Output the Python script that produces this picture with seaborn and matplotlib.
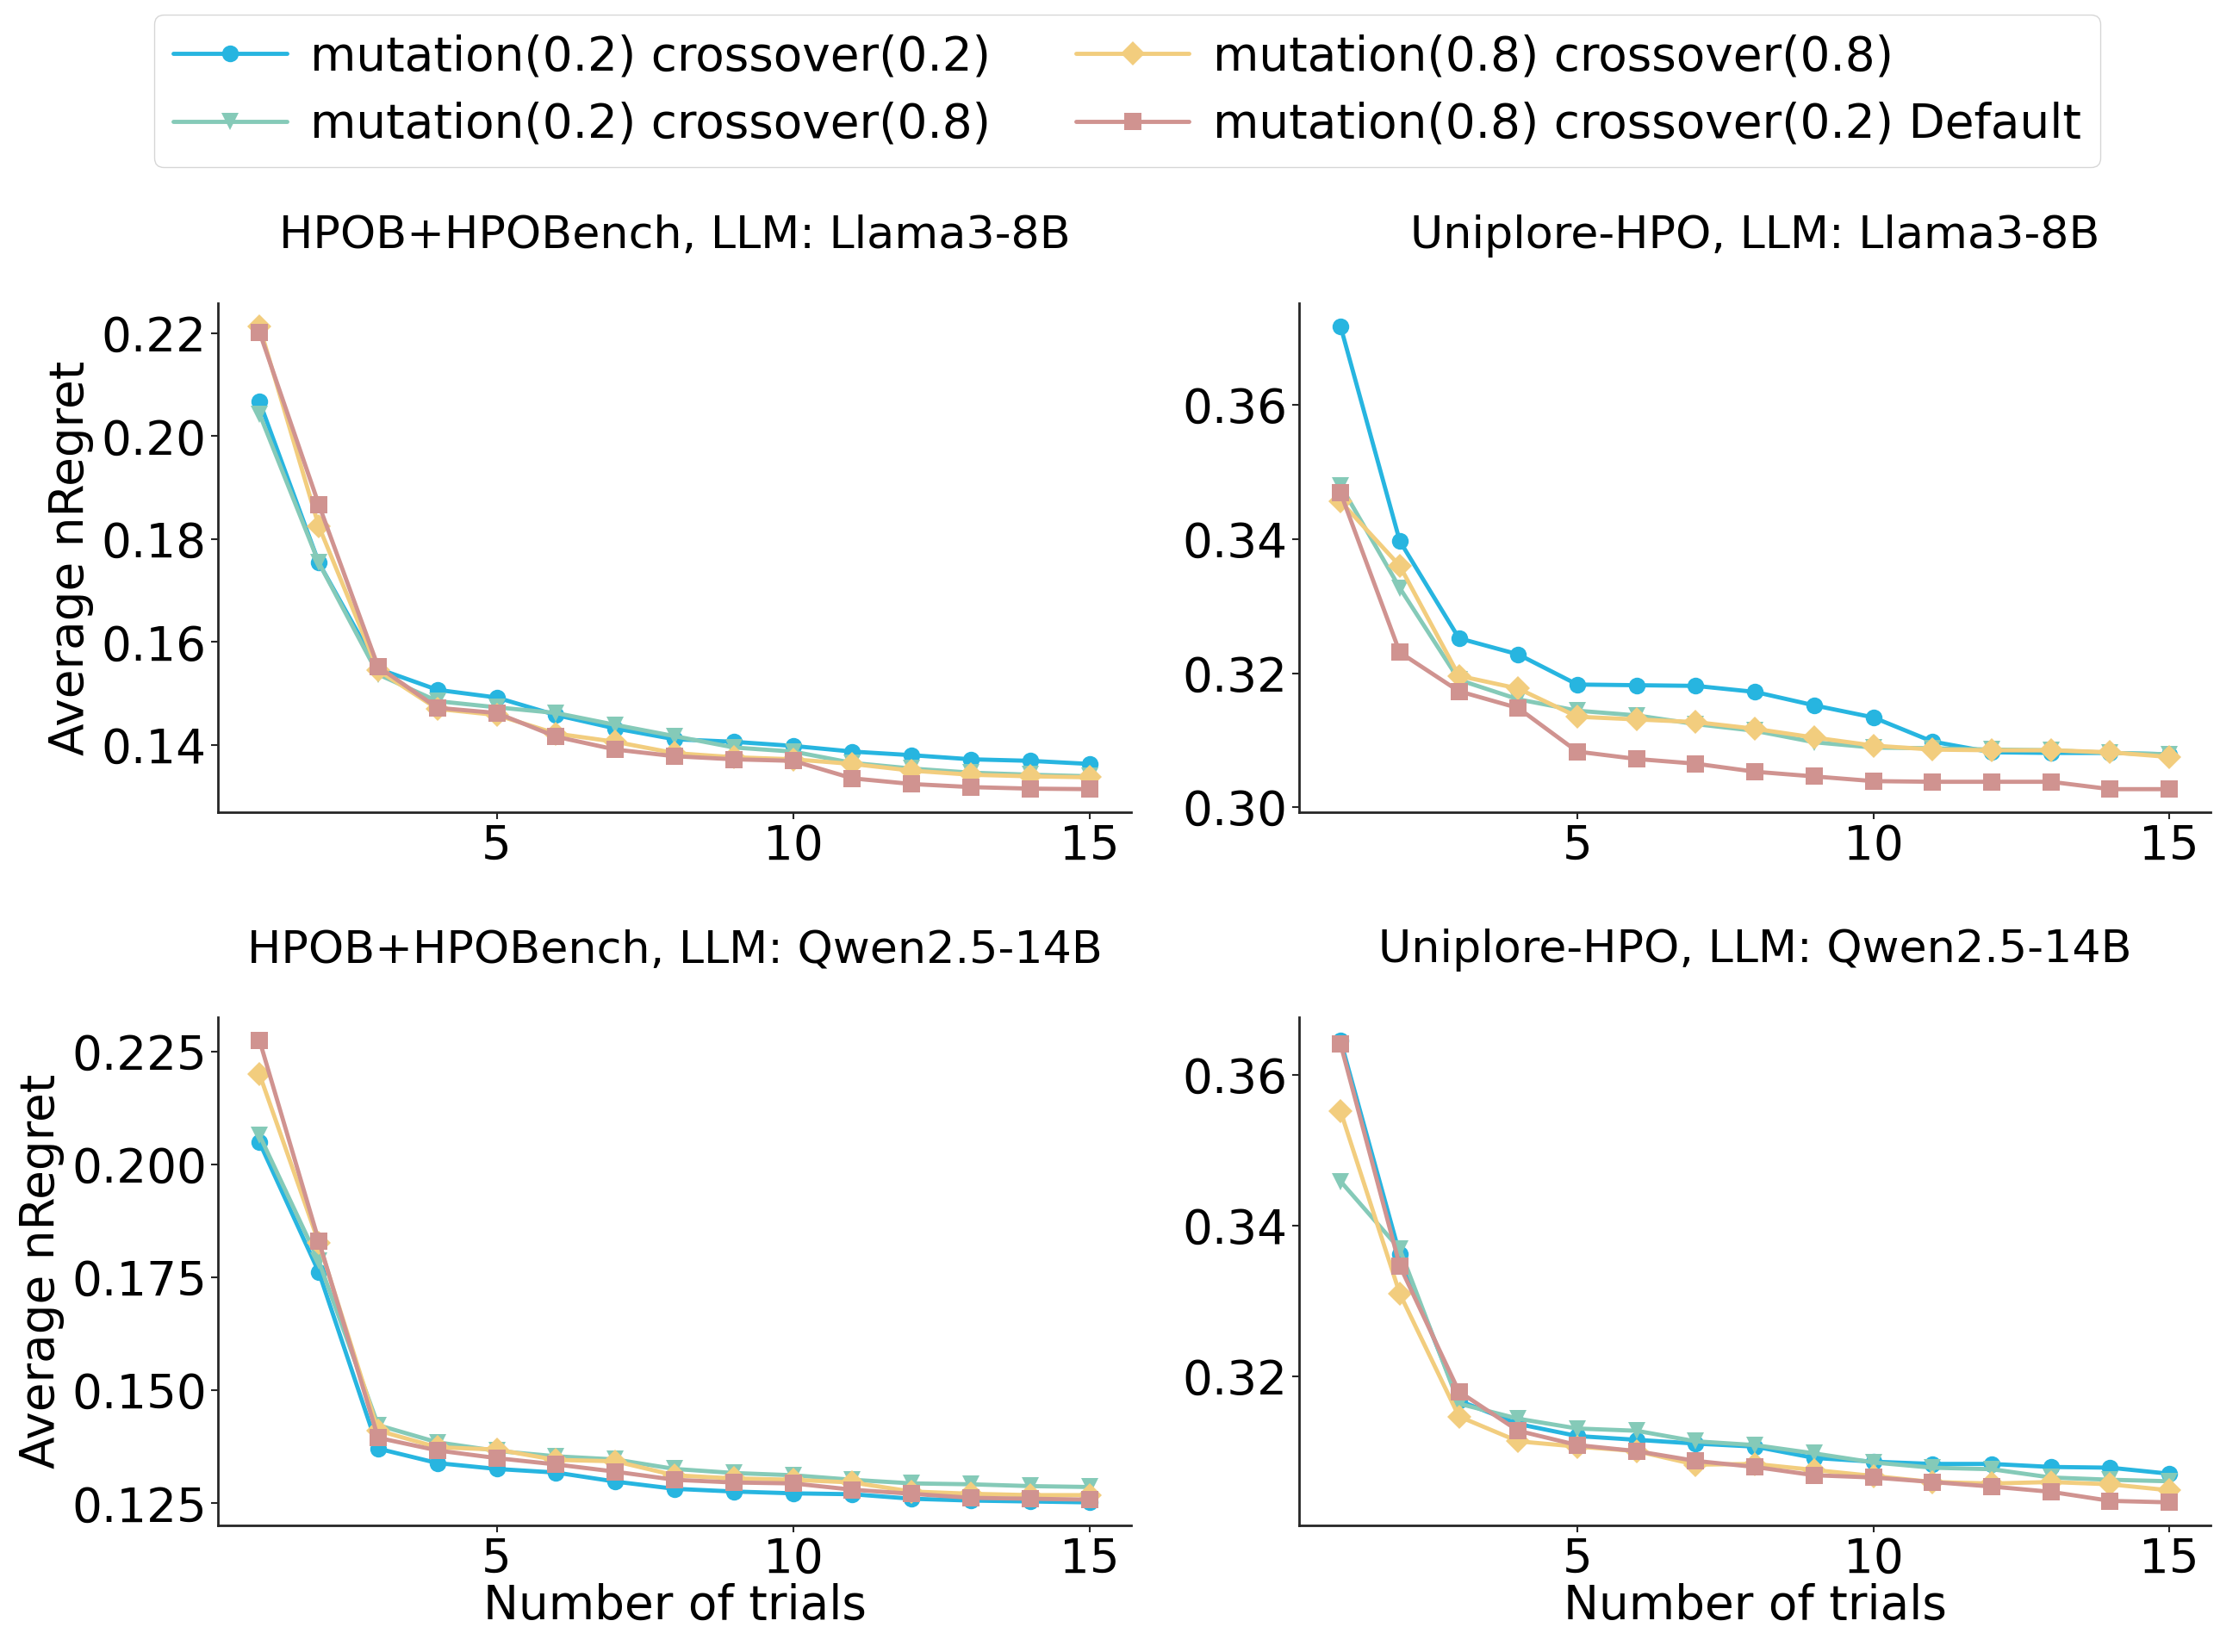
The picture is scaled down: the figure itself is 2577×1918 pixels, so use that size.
import numpy as np
import pandas as pd
import matplotlib
matplotlib.use("Agg")
import matplotlib.pyplot as plt
import seaborn as sns

# Dados (Average nRegret por número de trials)
trials = list(range(1, 16))
configs = [
    "mutation(0.2) crossover(0.2)",
    "mutation(0.2) crossover(0.8)",
    "mutation(0.8) crossover(0.8)",
    "mutation(0.8) crossover(0.2) Default",
]
cores = ["#27B5E0", "#85CAB8", "#F2CD7E", "#D09390"]
marcadores = ["o", "v", "D", "s"]

titulos = [
    "HPOB+HPOBench, LLM: Llama3-8B",
    "Uniplore-HPO, LLM: Llama3-8B",
    "HPOB+HPOBench, LLM: Qwen2.5-14B",
    "Uniplore-HPO, LLM: Qwen2.5-14B",
]

# painel 1: HPOB+HPOBench / Llama3-8B
hpob_llama_m2c2 = [0.2067, 0.1754, 0.1548, 0.1507, 0.1492, 0.1458, 0.1432, 0.1411,
                   0.1406, 0.1398, 0.1387, 0.1380, 0.1372, 0.1369, 0.1363]
hpob_llama_m2c8 = [0.2043, 0.1754, 0.1537, 0.1485, 0.1473, 0.1462, 0.1439, 0.1417,
                   0.1395, 0.1387, 0.1365, 0.1354, 0.1346, 0.1342, 0.1339]
hpob_llama_m8c8 = [0.2213, 0.1825, 0.1545, 0.1470, 0.1458, 0.1422, 0.1406, 0.1384,
                   0.1376, 0.1372, 0.1363, 0.1350, 0.1342, 0.1339, 0.1337]
hpob_llama_m8c2 = [0.2202, 0.1867, 0.1552, 0.1472, 0.1462, 0.1416, 0.1391, 0.1378,
                   0.1372, 0.1369, 0.1335, 0.1324, 0.1318, 0.1315, 0.1314]

# painel 2: Uniplore-HPO / Llama3-8B
uni_llama_m2c2 = [0.3717, 0.3397, 0.3252, 0.3228, 0.3183, 0.3182, 0.3181, 0.3172,
                  0.3152, 0.3134, 0.3098, 0.3082, 0.3081, 0.3081, 0.3079]
uni_llama_m2c8 = [0.3480, 0.3327, 0.3190, 0.3161, 0.3144, 0.3137, 0.3124, 0.3114,
                  0.3097, 0.3089, 0.3088, 0.3086, 0.3085, 0.3081, 0.3079]
uni_llama_m8c8 = [0.3456, 0.3360, 0.3196, 0.3177, 0.3135, 0.3131, 0.3127, 0.3117,
                  0.3104, 0.3092, 0.3086, 0.3085, 0.3085, 0.3082, 0.3075]
uni_llama_m8c2 = [0.3469, 0.3231, 0.3173, 0.3148, 0.3083, 0.3072, 0.3065, 0.3053,
                  0.3046, 0.3039, 0.3038, 0.3038, 0.3038, 0.3027, 0.3027]

# painel 3: HPOB+HPOBench / Qwen2.5-14B
hpob_qwen_m2c2 = [0.2049, 0.1762, 0.1371, 0.1339, 0.1326, 0.1318, 0.1298, 0.1282,
                  0.1276, 0.1272, 0.1270, 0.1260, 0.1256, 0.1254, 0.1252]
hpob_qwen_m2c8 = [0.2065, 0.1786, 0.1423, 0.1385, 0.1366, 0.1354, 0.1347, 0.1326,
                  0.1317, 0.1312, 0.1302, 0.1294, 0.1292, 0.1288, 0.1286]
hpob_qwen_m8c8 = [0.2200, 0.1827, 0.1411, 0.1374, 0.1369, 0.1346, 0.1343, 0.1312,
                  0.1305, 0.1302, 0.1296, 0.1276, 0.1271, 0.1268, 0.1268]
hpob_qwen_m8c2 = [0.2275, 0.1831, 0.1395, 0.1367, 0.1350, 0.1336, 0.1320, 0.1302,
                  0.1296, 0.1294, 0.1280, 0.1271, 0.1262, 0.1260, 0.1258]

# painel 4: Uniplore-HPO / Qwen2.5-14B
uni_qwen_m2c2 = [0.3646, 0.3362, 0.3168, 0.3137, 0.3121, 0.3116, 0.3111, 0.3107,
                 0.3092, 0.3087, 0.3084, 0.3084, 0.3080, 0.3079, 0.3071]
uni_qwen_m2c8 = [0.3459, 0.3369, 0.3164, 0.3144, 0.3131, 0.3128, 0.3114, 0.3109,
                 0.3098, 0.3086, 0.3079, 0.3077, 0.3066, 0.3063, 0.3061]
uni_qwen_m8c8 = [0.3552, 0.3310, 0.3147, 0.3114, 0.3107, 0.3101, 0.3083, 0.3084,
                 0.3076, 0.3068, 0.3060, 0.3058, 0.3060, 0.3057, 0.3049]
uni_qwen_m8c2 = [0.3641, 0.3347, 0.3180, 0.3128, 0.3109, 0.3101, 0.3088, 0.3080,
                 0.3069, 0.3066, 0.3060, 0.3054, 0.3047, 0.3035, 0.3033]

paineis = [
    [hpob_llama_m2c2, hpob_llama_m2c8, hpob_llama_m8c8, hpob_llama_m8c2],
    [uni_llama_m2c2, uni_llama_m2c8, uni_llama_m8c8, uni_llama_m8c2],
    [hpob_qwen_m2c2, hpob_qwen_m2c8, hpob_qwen_m8c8, hpob_qwen_m8c2],
    [uni_qwen_m2c2, uni_qwen_m2c8, uni_qwen_m8c8, uni_qwen_m8c2],
]
passos_y = [0.02, 0.02, 0.025, 0.02]

sns.set_style("ticks")
plt.rcParams["font.family"] = ["DejaVu Sans"]
plt.rcParams["text.color"] = "black"
plt.rcParams["axes.labelcolor"] = "black"
plt.rcParams["xtick.labelcolor"] = "black"
plt.rcParams["ytick.labelcolor"] = "black"
FS = 39.5
FS_TITULO = 37.7

fig = plt.figure(figsize=(25.77, 19.18), dpi=100)
posicoes = [
    [0.0982, 0.5083, 0.4113, 0.3081],
    [0.5852, 0.5083, 0.4106, 0.3081],
    [0.0982, 0.0766, 0.4113, 0.3076],
    [0.5852, 0.0766, 0.4106, 0.3076],
]

for k, (pos, series) in enumerate(zip(posicoes, paineis)):
    ax = fig.add_axes(pos)
    linhas = []
    for nome, vals in zip(configs, series):
        linhas.append(pd.DataFrame({"trial": trials, "nregret": vals, "config": nome}))
    df = pd.concat(linhas, ignore_index=True)
    sns.lineplot(
        data=df, x="trial", y="nregret", hue="config", style="config",
        hue_order=configs, style_order=configs,
        palette=dict(zip(configs, cores)),
        markers=dict(zip(configs, marcadores)), dashes=False,
        linewidth=3.5, markersize=14, markeredgewidth=0,
        ax=ax, legend=(k == 0),
    )
    ax.set_title(titulos[k], fontsize=FS_TITULO, pad=46)
    ax.set_xticks([5, 10, 15])
    ax.yaxis.set_major_locator(plt.MultipleLocator(passos_y[k]))
    ax.tick_params(labelsize=FS, length=6, width=1.5)
    for s in ["left", "bottom"]:
        ax.spines[s].set_linewidth(2)
    sns.despine(ax=ax)
    if k >= 2:
        ax.set_xlabel("Number of trials", fontsize=FS, labelpad=0)
    else:
        ax.set_xlabel("")
    if k % 2 == 0:
        ax.set_ylabel("Average nRegret", fontsize=FS, labelpad=6)
    else:
        ax.set_ylabel("")
    if k == 0:
        handles, labels = ax.get_legend_handles_labels()
        ax.get_legend().remove()

fig.legend(
    handles, labels, loc="upper center", bbox_to_anchor=(0.5077, 0.991),
    borderaxespad=0, ncol=2, fontsize=FS, frameon=True, handlelength=2.4,
    handletextpad=0.5, columnspacing=1.8, labelspacing=0.45, borderpad=0.4,
)

plt.savefig("out.png", dpi=100)
plt.close()
